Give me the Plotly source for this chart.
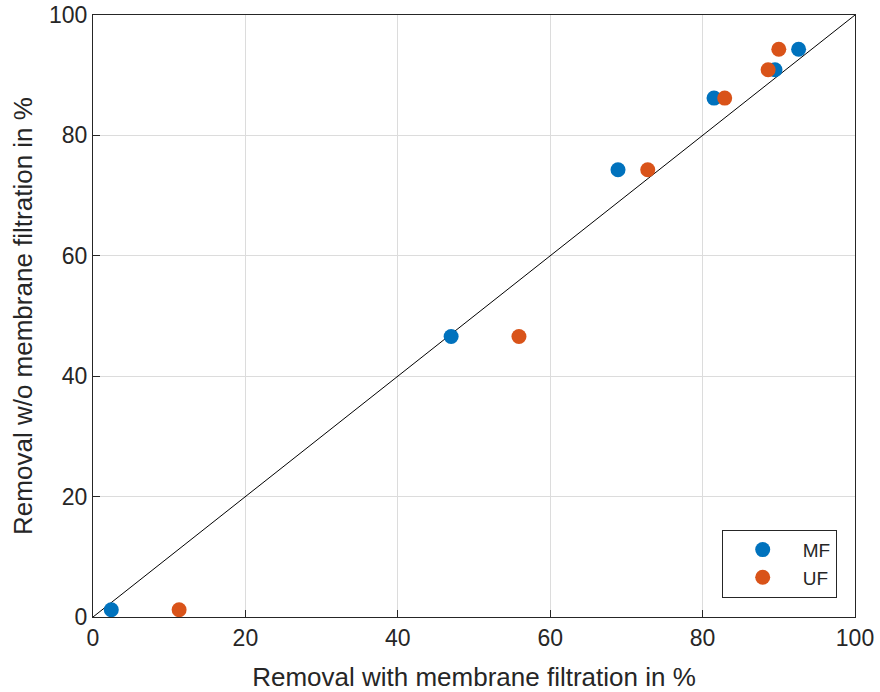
import plotly.graph_objects as go

mf_x = [2.4, 47.0, 68.9, 81.5, 89.5, 92.6]
mf_y = [1.2, 46.6, 74.3, 86.2, 90.9, 94.3]
uf_x = [11.3, 55.9, 72.8, 82.9, 88.6, 90.0]
uf_y = [1.2, 46.6, 74.3, 86.2, 90.9, 94.3]
line_x = [0, 100]
line_y = [0, 100]
ticks = [0, 20, 40, 60, 80, 100]

fig = go.Figure()
fig.add_trace(go.Scatter(x=line_x, y=line_y, mode="lines",
                         line=dict(color="black", width=1), showlegend=False))
fig.add_trace(go.Scatter(x=mf_x, y=mf_y, mode="markers", name="MF",
                         marker=dict(color="#0072BD", size=15)))
fig.add_trace(go.Scatter(x=uf_x, y=uf_y, mode="markers", name="UF",
                         marker=dict(color="#D95319", size=15)))

axis_common = dict(range=[0, 100], tickvals=ticks, showgrid=True,
                   gridcolor="#dcdcdc", gridwidth=1, zeroline=False,
                   showline=True, linecolor="#262626", linewidth=1, mirror=True,
                   ticks="inside", ticklen=7, tickcolor="#262626",
                   automargin=False,
                   tickfont=dict(family="Liberation Sans, Arial", size=23, color="#262626"))

fig.update_layout(
    width=880, height=692,
    margin=dict(l=93, r=25, t=15, b=75),
    plot_bgcolor="white", paper_bgcolor="white",
    font=dict(family="Liberation Sans, Arial", color="#262626"),
    xaxis=dict(**axis_common,
               title=dict(text="Removal with membrane filtration in %",
                          font=dict(size=26, color="#262626"), standoff=18)),
    yaxis=dict(**axis_common,
               title=dict(text="Removal w/o membrane filtration in %",
                          font=dict(size=26, color="#262626"), standoff=8)),
    legend=dict(x=0.976, y=0.032, xanchor="right", yanchor="bottom",
                bordercolor="#262626", borderwidth=1, bgcolor="white",
                font=dict(size=19, color="#262626"),
                itemwidth=70, tracegroupgap=0),
)
fig.write_html("out.html")
